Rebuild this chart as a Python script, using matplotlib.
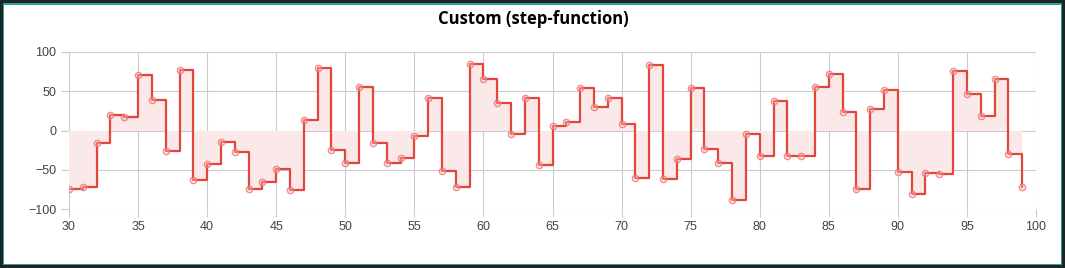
import matplotlib
matplotlib.use("Agg")
import matplotlib.pyplot as plt
from matplotlib.patches import Rectangle

# data
x_values = list(range(30, 100))
y_values = [-74, -72, -16, 20, 17, 71, 39, -26, 77, -63,
            -43, -15, -27, -75, -66, -49, -76, 13, 80, -25,
            -41, 56, -16, -41, -35, -7, 41, -52, -72, 85,
            66, 35, -4, 41, -44, 6, 11, 54, 30, 42,
            8, -60, 84, -62, -36, 54, -24, -42, -88, -5,
            -33, 37, -32, -33, 56, 72, 24, -74, 27, 51,
            -53, -81, -54, -56, 76, 46, 19, 66, -30, -72]
x_ticks = [30, 35, 40, 45, 50, 55, 60, 65, 70, 75, 80, 85, 90, 95, 100]
y_ticks = [-100, -50, 0, 50, 100]
title = "Custom (step-function)"

line_color = "#e2463b"
grid_color = "#cbcbcb"

fig = plt.figure(figsize=(10.65, 2.68), dpi=100, facecolor="#1f2328")
# teal frame and white card
fig.patches.append(Rectangle((3 / 1065, 3 / 268), 1059 / 1065, 262 / 268,
                             transform=fig.transFigure, facecolor="#2aa198",
                             edgecolor="none", zorder=-2))
fig.patches.append(Rectangle((4.5 / 1065, 4.5 / 268), 1056 / 1065, 259 / 268,
                             transform=fig.transFigure, facecolor="white",
                             edgecolor="none", zorder=-1))

ax = fig.add_axes([69 / 1065, 1 - 209 / 268, (1036 - 69) / 1065, (209 - 52) / 268])
ax.set_zorder(2)
ax.set_facecolor("none")

ax.fill_between(x_values, y_values, 0, step="post", color="#fbe9e9", linewidth=0, zorder=1)
ax.plot(x_values, y_values, drawstyle="steps-post", color=line_color, linewidth=1.6, zorder=3)
ax.plot(x_values, y_values, linestyle="none", marker="o", markersize=4.5,
        markerfacecolor=(1, 0.8, 0.8, 0.35), markeredgecolor=(0.93, 0.45, 0.45, 0.8),
        markeredgewidth=1.0, zorder=4)

ax.set_xlim(30, 100)
ax.set_ylim(-100, 100)
ax.set_xticks(x_ticks)
ax.set_yticks(y_ticks)
ax.grid(True, color=grid_color, linewidth=0.8, zorder=0)
ax.set_axisbelow(True)
for s in ax.spines.values():
    s.set_visible(False)
ax.tick_params(axis="both", colors=grid_color, length=6, width=0.8,
               labelcolor="#444444", labelsize=9, pad=3)
for lbl in ax.get_xticklabels() + ax.get_yticklabels():
    lbl.set_family("Liberation Sans")

fig.text(533 / 1065, 1 - 19 / 268, title, ha="center", va="center",
         fontsize=12, fontweight="bold", color="black", family="Open Sans", zorder=3)

fig.savefig("out.png", dpi=100, facecolor=fig.get_facecolor())
